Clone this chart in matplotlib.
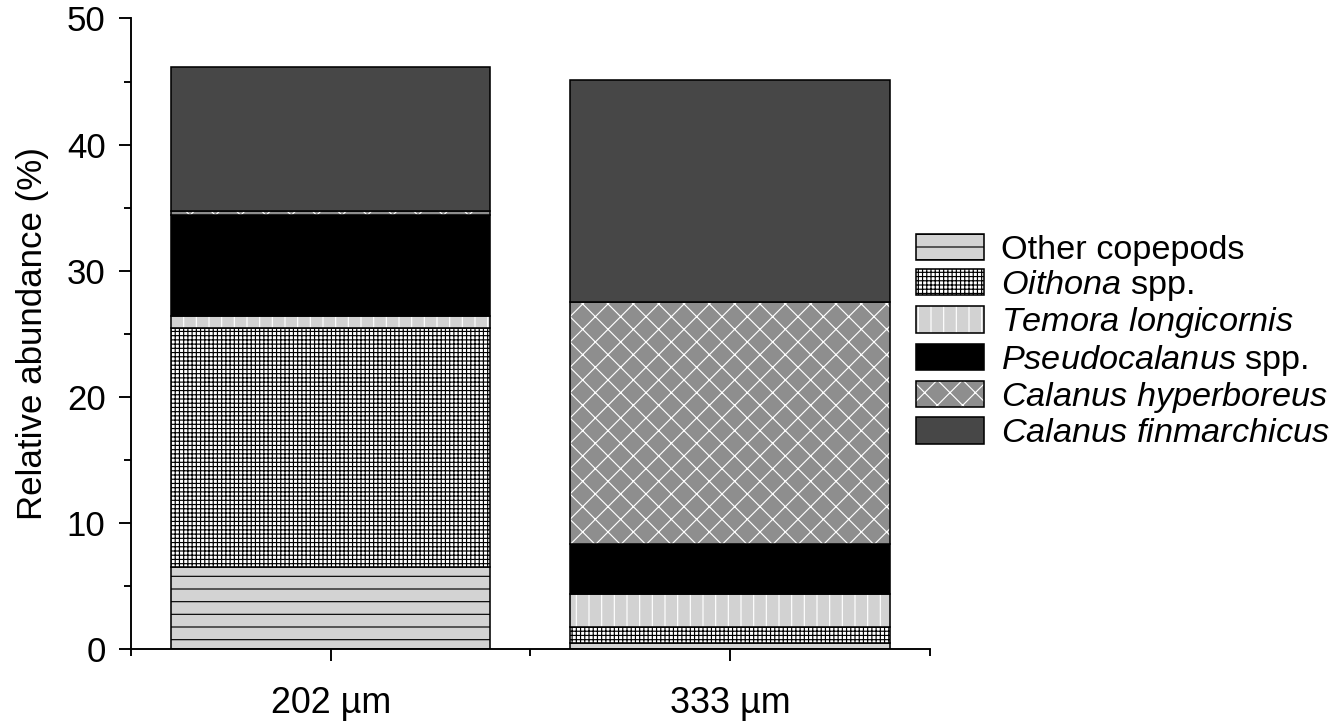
import matplotlib
matplotlib.use('Agg')
import matplotlib.pyplot as plt
from matplotlib.patches import Patch
import numpy as np

# Copepod composition per mesh size (% of total abundance)
mesh_sizes   = ['202 µm', '333 µm']
other_copepods = [6.5, 0.5]
oithona        = [18.95, 1.25]
temora         = [0.95, 2.65]
pseudocalanus  = [8.0, 3.95]
c_hyperboreus  = [0.35, 19.2]
c_finmarchicus = [11.4, 17.6]

plt.rcParams['font.family'] = ['Liberation Sans', 'DejaVu Sans']
plt.rcParams['mathtext.fontset'] = 'custom'
plt.rcParams['mathtext.rm'] = 'Liberation Sans'
plt.rcParams['mathtext.it'] = 'Liberation Sans:italic'
plt.rcParams['hatch.linewidth'] = 1.1

DPI = 76
fs = 33

# (values, label, face, hatch, hatch colour)
layers = [
    (other_copepods, 'Other copepods', '#d3d3d3', '-', 'black'),
    (oithona, r'$\mathit{Oithona}$ spp.', 'white', '+++', 'black'),
    (temora, r'$\mathit{Temora\ longicornis}$', '#d2d2d2', '|', 'white'),
    (pseudocalanus, r'$\mathit{Pseudocalanus}$ spp.', 'black', None, 'black'),
    (c_hyperboreus, r'$\mathit{Calanus\ hyperboreus}$', '#8e8e8e', 'x', 'white'),
    (c_finmarchicus, r'$\mathit{Calanus\ finmarchicus}$', '#474747', None, 'black'),
]

fig = plt.figure(figsize=(1339 / DPI, 722 / DPI), dpi=DPI)
ax = fig.add_axes([0.0978, 0.1006, 0.5967, 0.8738])

x = np.arange(len(mesh_sizes))
bottom = np.zeros(len(mesh_sizes))
handles = []
for vals, label, face, hatch, hcol in layers:
    vals = np.array(vals)
    # fill + hatch first, then a black outline on top
    ax.bar(x, vals, 0.8, bottom=bottom, color=face, edgecolor=hcol,
           hatch=hatch, linewidth=0)
    ax.bar(x, vals, 0.8, bottom=bottom, fill=False, edgecolor='black',
           linewidth=1.5)
    bottom += vals
    handles.append((Patch(facecolor=face, edgecolor=hcol, hatch=hatch, linewidth=0),
                    Patch(fill=False, edgecolor='black', linewidth=1.5)))

ax.set_xlim(-0.5, 1.5)
ax.set_ylim(0, 50)
ax.spines['top'].set_visible(False)
ax.spines['right'].set_visible(False)
for s in ('left', 'bottom'):
    ax.spines[s].set_linewidth(1.8)

ax.set_yticks(np.arange(0, 51, 10))
ax.set_yticks(np.arange(5, 50, 10), minor=True)
ax.set_xticks(x)
ax.set_xticklabels(mesh_sizes)
ax.set_xticks([-0.5, 0.5, 1.5], minor=True)
ax.tick_params(axis='both', which='major', direction='out', length=11, width=1.8,
               labelsize=fs)
ax.tick_params(axis='both', which='minor', direction='out', length=7, width=1.8)
ax.tick_params(axis='y', which='major', pad=13)
ax.tick_params(axis='x', which='major', pad=24, labelsize=34)

ax.set_ylabel('Relative abundance (%)', fontsize=fs, labelpad=17)

fig.legend(handles, [l[1] for l in layers], loc='center left',
           bbox_to_anchor=(0.684, 0.527), frameon=False, fontsize=32.4,
           handlelength=2.0, handleheight=0.8, handletextpad=0.48,
           labelspacing=0.07, borderpad=0, borderaxespad=0)

fig.savefig('out.png', dpi=DPI)
